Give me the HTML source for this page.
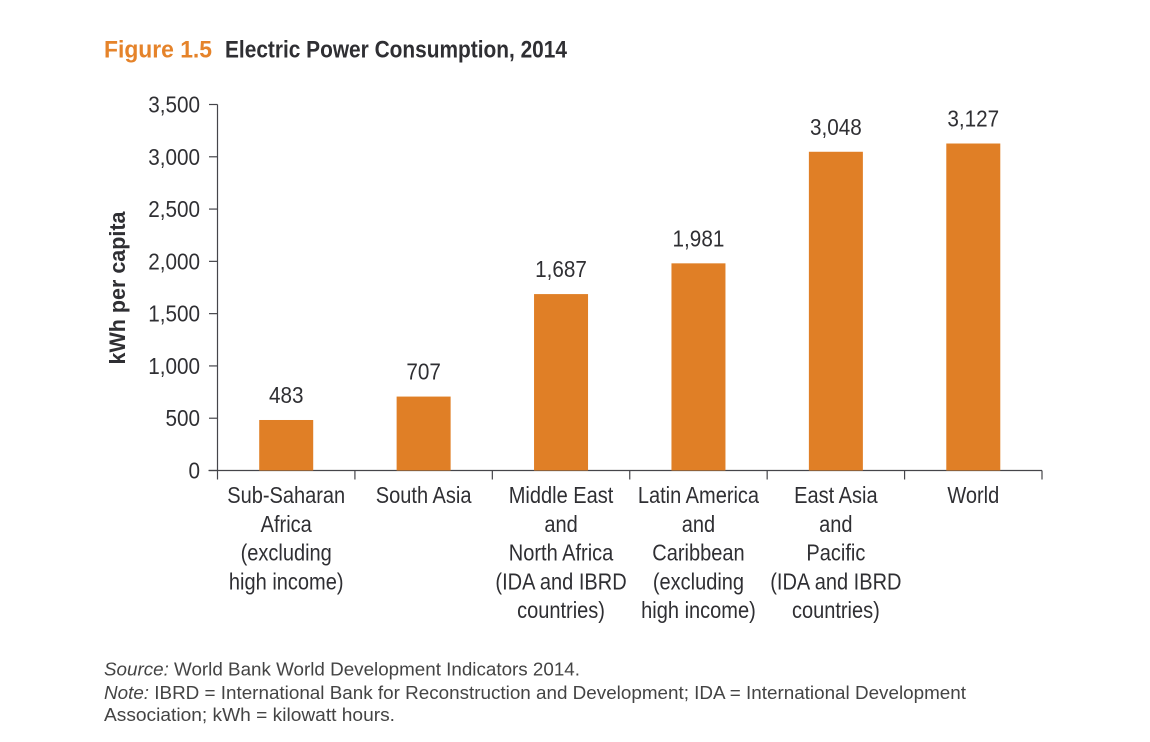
<!DOCTYPE html>
<html>
<head>
<meta charset="utf-8">
<style>
html,body{margin:0;padding:0;background:#fff;}
body{width:1150px;height:742px;overflow:hidden;position:relative;font-family:"Liberation Sans",sans-serif;}
svg{position:absolute;left:0;top:0;}
text{font-family:"Liberation Sans",sans-serif;fill:#2f2f33;}
</style>
</head>
<body>
<svg id="chart" width="1150" height="742" viewBox="0 0 1150 742">
<text x="104" y="57.5" font-size="24" font-weight="bold" style="fill:#e5832a" textLength="108" lengthAdjust="spacingAndGlyphs">Figure 1.5</text>
<text x="225" y="57.5" font-size="24" font-weight="bold" textLength="342" lengthAdjust="spacingAndGlyphs">Electric Power Consumption, 2014</text>
<text transform="translate(125,288) rotate(-90)" text-anchor="middle" font-size="22" font-weight="bold" textLength="153" lengthAdjust="spacingAndGlyphs">kWh per capita</text>
<text x="104" y="675.5" font-size="18.5" style="fill:#444" textLength="476" lengthAdjust="spacingAndGlyphs"><tspan font-style="italic">Source:</tspan> World Bank World Development Indicators 2014.</text>
<text x="104" y="699" font-size="18.5" style="fill:#444" textLength="862" lengthAdjust="spacingAndGlyphs"><tspan font-style="italic">Note:</tspan> IBRD = International Bank for Reconstruction and Development; IDA = International Development</text>
<text x="104" y="721" font-size="18.5" style="fill:#444" textLength="291" lengthAdjust="spacingAndGlyphs">Association; kWh = kilowatt hours.</text>
<g id="plot"></g>
</svg>
<script>
var categories = [
  ["Sub-Saharan","Africa","(excluding","high income)"],
  ["South Asia"],
  ["Middle East","and","North Africa","(IDA and IBRD","countries)"],
  ["Latin America","and","Caribbean","(excluding","high income)"],
  ["East Asia","and","Pacific","(IDA and IBRD","countries)"],
  ["World"]
];
var values = [483,707,1687,1981,3048,3127];
var valueLabels = ["483","707","1,687","1,981","3,048","3,127"];
var yTicks = [0,500,1000,1500,2000,2500,3000,3500];
var yTickLabels = ["0","500","1,000","1,500","2,000","2,500","3,000","3,500"];

var NS = "http://www.w3.org/2000/svg";
var plot = document.getElementById("plot");
var axisLeft = 217.5, axisRight = 1042, axisBottom = 470.5, axisTop = 104.5;
var yMax = 3500;
var axisColor = "#45454a", axisWidth = 1.2, labelSize = 23;
function yScale(v){ return axisBottom - (v / yMax) * (axisBottom - axisTop); }
function bandWidth(){ return (axisRight - axisLeft) / categories.length; }
function xScale(i){ return axisLeft + bandWidth() * (i + 0.5); }
function make(tag, attrs, txt){
  var el = document.createElementNS(NS, tag);
  for (var k in attrs) el.setAttribute(k, attrs[k]);
  if (txt !== undefined) el.textContent = txt;
  plot.appendChild(el);
  return el;
}
function condense(el, factor){
  var w = el.getComputedTextLength();
  el.setAttribute("textLength", (w * factor).toFixed(2));
  el.setAttribute("lengthAdjust", "spacingAndGlyphs");
}
var el;
el = make("line",{x1:axisLeft,x2:axisLeft,y1:axisTop,y2:axisBottom,stroke:axisColor,"stroke-width":axisWidth});


el = make("line",{x1:axisLeft-9,x2:axisRight,y1:axisBottom,y2:axisBottom,stroke:axisColor,"stroke-width":axisWidth});


yTicks.forEach(function(t,i){
  var y = yScale(t);
  var tick = make("line",{x1:axisLeft-8.5,x2:axisLeft,y1:y,y2:y,stroke:axisColor,"stroke-width":axisWidth});
  
  
  var lab = make("text",{x:axisLeft-17.5,y:y+8,"text-anchor":"end","font-size":labelSize},yTickLabels[i]);
  
  
  condense(lab, 0.9);
});
for (var j = 0; j <= categories.length; j++){
  var tx = axisLeft + bandWidth() * j;
  var xt = make("line",{x1:tx,x2:tx,y1:axisBottom,y2:axisBottom+9,stroke:axisColor,"stroke-width":axisWidth});
  
  
}
values.forEach(function(v,i){
  var cx = xScale(i), barW = 54, top = yScale(v);
  var bar = make("rect",{x:cx-barW/2,y:top,width:barW,height:axisBottom-top,fill:"#e07f26"});
  
  
  var vl = make("text",{x:cx,y:top-17,"text-anchor":"middle","font-size":labelSize},valueLabels[i]);
  
  
  condense(vl, 0.9);
  categories[i].forEach(function(line,n){
    var cl = make("text",{x:cx,y:503+n*28.8,"text-anchor":"middle","font-size":labelSize},line);
    
    
    condense(cl, 0.87);
  });
});
</script>
</body>
</html>
